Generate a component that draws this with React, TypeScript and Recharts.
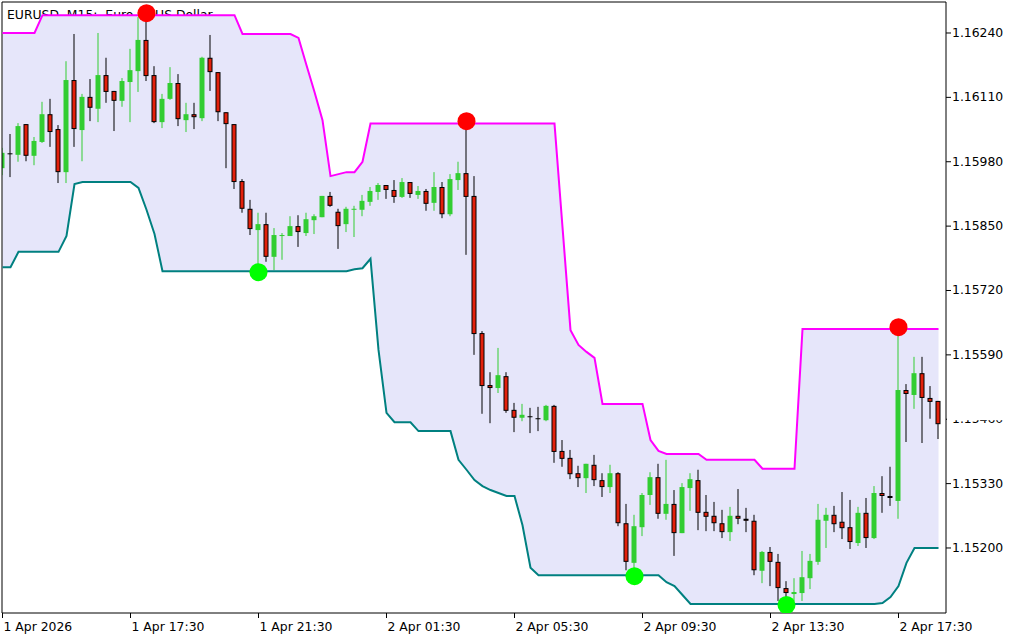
import { ComposedChart, Area, Line, Bar, Scatter, XAxis, YAxis, ReferenceLine } from 'recharts';

// EURUSD M15, 1 Apr 13:30 .. 2 Apr 18:45 (118 bars)
const opens = [
  1.15967, 1.15996, 1.15994, 1.16056, 1.15992, 1.16020, 1.16076, 1.16046, 1.15959, 1.16145,
  1.16044, 1.16111, 1.16087, 1.16155, 1.16123, 1.16103, 1.16141, 1.16163, 1.16226, 1.16155,
  1.16060, 1.16107, 1.16139, 1.16064, 1.16076, 1.16068, 1.16190, 1.16161, 1.16080, 1.16056,
  1.15941, 1.15885, 1.15842, 1.15854, 1.15788, 1.15830, 1.15830, 1.15850, 1.15836, 1.15862,
  1.15868, 1.15911, 1.15879, 1.15854, 1.15883, 1.15883, 1.15899, 1.15919, 1.15933, 1.15923,
  1.15909, 1.15939, 1.15913, 1.15921, 1.15897, 1.15929, 1.15874, 1.15943, 1.15957, 1.15911,
  1.15634, 1.15529, 1.15523, 1.15547, 1.15479, 1.15463, 1.15465, 1.15461, 1.15458, 1.15487,
  1.15396, 1.15382, 1.15351, 1.15341, 1.15368, 1.15337, 1.15323, 1.15351, 1.15250, 1.15170,
  1.15242, 1.15307, 1.15343, 1.15269, 1.15289, 1.15230, 1.15321, 1.15337, 1.15273, 1.15265,
  1.15250, 1.15232, 1.15265, 1.15259, 1.15255, 1.15154, 1.15192, 1.15172, 1.15119, 1.15107,
  1.15109, 1.15139, 1.15172, 1.15255, 1.15267, 1.15253, 1.15242, 1.15210, 1.15271, 1.15220,
  1.15311, 1.15305, 1.15295, 1.15519, 1.15509, 1.15553, 1.15503, 1.15497,
];
const highs = [
  1.16008, 1.16036, 1.16058, 1.16056, 1.16030, 1.16101, 1.16107, 1.16054, 1.16183, 1.16238,
  1.16117, 1.16147, 1.16240, 1.16190, 1.16123, 1.16149, 1.16208, 1.16272, 1.16276, 1.16173,
  1.16117, 1.16171, 1.16157, 1.16099, 1.16099, 1.16192, 1.16236, 1.16161, 1.16080, 1.16056,
  1.15945, 1.15903, 1.15877, 1.15877, 1.15846, 1.15836, 1.15870, 1.15872, 1.15877, 1.15874,
  1.15911, 1.15919, 1.15885, 1.15889, 1.15891, 1.15913, 1.15929, 1.15937, 1.15933, 1.15943,
  1.15947, 1.15939, 1.15931, 1.15925, 1.15959, 1.15939, 1.15955, 1.15980, 1.16057, 1.15951,
  1.15638, 1.15555, 1.15604, 1.15555, 1.15493, 1.15491, 1.15483, 1.15485, 1.15489, 1.15489,
  1.15418, 1.15398, 1.15366, 1.15370, 1.15388, 1.15351, 1.15368, 1.15353, 1.15289, 1.15267,
  1.15311, 1.15353, 1.15370, 1.15378, 1.15317, 1.15331, 1.15351, 1.15358, 1.15307, 1.15293,
  1.15277, 1.15283, 1.15319, 1.15281, 1.15267, 1.15194, 1.15202, 1.15188, 1.15133, 1.15139,
  1.15194, 1.15188, 1.15289, 1.15281, 1.15285, 1.15313, 1.15297, 1.15283, 1.15301, 1.15325,
  1.15345, 1.15364, 1.15642, 1.15531, 1.15586, 1.15586, 1.15527, 1.15497,
];
const lows = [
  1.15953, 1.15949, 1.15980, 1.15981, 1.15973, 1.16018, 1.16010, 1.15937, 1.15937, 1.16010,
  1.15981, 1.16062, 1.16060, 1.16099, 1.16042, 1.16091, 1.16060, 1.16121, 1.16143, 1.16058,
  1.16048, 1.16105, 1.16052, 1.16040, 1.16046, 1.16062, 1.16123, 1.16062, 1.15967, 1.15925,
  1.15877, 1.15832, 1.15759, 1.15778, 1.15761, 1.15782, 1.15830, 1.15808, 1.15830, 1.15834,
  1.15868, 1.15889, 1.15804, 1.15838, 1.15828, 1.15870, 1.15891, 1.15903, 1.15905, 1.15897,
  1.15907, 1.15907, 1.15905, 1.15881, 1.15881, 1.15866, 1.15870, 1.15923, 1.15792, 1.15590,
  1.15471, 1.15452, 1.15513, 1.15473, 1.15434, 1.15456, 1.15432, 1.15436, 1.15456, 1.15372,
  1.15364, 1.15339, 1.15323, 1.15311, 1.15325, 1.15303, 1.15311, 1.15244, 1.15155, 1.15145,
  1.15224, 1.15287, 1.15259, 1.15257, 1.15184, 1.15230, 1.15275, 1.15236, 1.15234, 1.15234,
  1.15220, 1.15214, 1.15248, 1.15232, 1.15145, 1.15129, 1.15123, 1.15093, 1.15087, 1.15093,
  1.15093, 1.15117, 1.15166, 1.15200, 1.15232, 1.15218, 1.15198, 1.15204, 1.15200, 1.15218,
  1.15271, 1.15285, 1.15259, 1.15414, 1.15481, 1.15412, 1.15461, 1.15420,
];
const closes = [
  1.15998, 1.15996, 1.16052, 1.15992, 1.16022, 1.16076, 1.16040, 1.15959, 1.16145, 1.16046,
  1.16111, 1.16089, 1.16155, 1.16121, 1.16103, 1.16143, 1.16165, 1.16226, 1.16153, 1.16060,
  1.16107, 1.16139, 1.16066, 1.16076, 1.16070, 1.16190, 1.16161, 1.16080, 1.16056, 1.15939,
  1.15885, 1.15844, 1.15854, 1.15788, 1.15832, 1.15832, 1.15850, 1.15838, 1.15864, 1.15870,
  1.15911, 1.15891, 1.15850, 1.15885, 1.15885, 1.15901, 1.15921, 1.15933, 1.15923, 1.15909,
  1.15939, 1.15915, 1.15921, 1.15895, 1.15929, 1.15874, 1.15945, 1.15957, 1.15909, 1.15632,
  1.15527, 1.15523, 1.15549, 1.15477, 1.15463, 1.15469, 1.15465, 1.15461, 1.15487, 1.15394,
  1.15380, 1.15349, 1.15341, 1.15370, 1.15337, 1.15323, 1.15351, 1.15250, 1.15172, 1.15244,
  1.15307, 1.15343, 1.15269, 1.15289, 1.15230, 1.15323, 1.15339, 1.15271, 1.15263, 1.15250,
  1.15232, 1.15265, 1.15259, 1.15255, 1.15155, 1.15192, 1.15172, 1.15119, 1.15109, 1.15111,
  1.15141, 1.15174, 1.15257, 1.15267, 1.15248, 1.15240, 1.15212, 1.15271, 1.15220, 1.15311,
  1.15305, 1.15301, 1.15519, 1.15511, 1.15553, 1.15503, 1.15495, 1.15450,
];

// channel bands
const upperBand = [
  1.16240, 1.16240, 1.16240, 1.16240, 1.16240, 1.16276, 1.16276, 1.16276, 1.16276, 1.16276,
  1.16276, 1.16276, 1.16276, 1.16276, 1.16276, 1.16276, 1.16276, 1.16276, 1.16276, 1.16276,
  1.16276, 1.16276, 1.16276, 1.16276, 1.16276, 1.16276, 1.16276, 1.16276, 1.16276, 1.16276,
  1.16238, 1.16238, 1.16238, 1.16238, 1.16238, 1.16238, 1.16238, 1.16230, 1.16175, 1.16121,
  1.16064, 1.15951, 1.15955, 1.15959, 1.15959, 1.15980, 1.16057, 1.16057, 1.16057, 1.16057,
  1.16057, 1.16057, 1.16057, 1.16057, 1.16057, 1.16057, 1.16057, 1.16057, 1.16057, 1.16057,
  1.16057, 1.16057, 1.16057, 1.16057, 1.16057, 1.16057, 1.16057, 1.16057, 1.16057, 1.16057,
  1.15848, 1.15640, 1.15610, 1.15596, 1.15584, 1.15491, 1.15491, 1.15491, 1.15491, 1.15491,
  1.15491, 1.15418, 1.15396, 1.15390, 1.15390, 1.15390, 1.15390, 1.15390, 1.15378, 1.15378,
  1.15378, 1.15378, 1.15378, 1.15378, 1.15378, 1.15360, 1.15360, 1.15360, 1.15360, 1.15360,
  1.15642, 1.15642, 1.15642, 1.15642, 1.15642, 1.15642, 1.15642, 1.15642, 1.15642, 1.15642,
  1.15642, 1.15642, 1.15642, 1.15642, 1.15642, 1.15642, 1.15642, 1.15642,
];
const lowerBand = [
  1.15767, 1.15767, 1.15798, 1.15798, 1.15798, 1.15798, 1.15798, 1.15798, 1.15830, 1.15935,
  1.15939, 1.15939, 1.15939, 1.15939, 1.15939, 1.15939, 1.15939, 1.15927, 1.15883, 1.15834,
  1.15759, 1.15759, 1.15759, 1.15759, 1.15759, 1.15759, 1.15759, 1.15759, 1.15759, 1.15759,
  1.15759, 1.15759, 1.15759, 1.15759, 1.15759, 1.15759, 1.15759, 1.15759, 1.15759, 1.15759,
  1.15759, 1.15759, 1.15759, 1.15759, 1.15763, 1.15765, 1.15784, 1.15600, 1.15473, 1.15454,
  1.15454, 1.15454, 1.15436, 1.15436, 1.15436, 1.15436, 1.15436, 1.15378, 1.15358, 1.15337,
  1.15325, 1.15317, 1.15311, 1.15305, 1.15305, 1.15246, 1.15160, 1.15145, 1.15145, 1.15145,
  1.15145, 1.15145, 1.15145, 1.15145, 1.15145, 1.15145, 1.15145, 1.15145, 1.15145, 1.15145,
  1.15145, 1.15145, 1.15145, 1.15131, 1.15123, 1.15105, 1.15087, 1.15087, 1.15087, 1.15087,
  1.15087, 1.15087, 1.15087, 1.15087, 1.15087, 1.15087, 1.15087, 1.15087, 1.15087, 1.15087,
  1.15087, 1.15087, 1.15087, 1.15087, 1.15087, 1.15087, 1.15087, 1.15087, 1.15087, 1.15087,
  1.15089, 1.15101, 1.15123, 1.15170, 1.15200, 1.15200, 1.15200, 1.15200,
];

// signal dots: [bar index, price]
const highDots = [
  { i: 18, v: 1.1628 },
  { i: 58, v: 1.16062 },
  { i: 112, v: 1.15646 },
];
const lowDots = [
  { i: 32, v: 1.15757 },
  { i: 79, v: 1.15143 },
  { i: 98, v: 1.15085 },
];

const timeTicks = [0, 16, 32, 48, 64, 80, 96, 112];
const timeLabels = [
  '1 Apr 2026',
  '1 Apr 17:30',
  '1 Apr 21:30',
  '2 Apr 01:30',
  '2 Apr 05:30',
  '2 Apr 09:30',
  '2 Apr 13:30',
  '2 Apr 17:30',
];
const priceTicks = [1.1624, 1.1611, 1.1598, 1.1585, 1.1572, 1.1559, 1.1546, 1.1533, 1.152];
const HIDDEN_PRICE = 1.1546; // label half covered in the terminal

const X_DOMAIN: [number, number] = [-0.0625, 117.9375];
const Y_DOMAIN: [number, number] = [1.150687, 1.163026];

const FONT = '"DejaVu Sans", sans-serif';
const FONT_SIZE = 12.4;
const BULL = '#32CD32';
const BEAR = '#E3200B';

const rows = opens.map((open, i) => ({
  i,
  open,
  high: highs[i],
  low: lows[i],
  close: closes[i],
  up: upperBand[i],
  lo: lowerBand[i],
}));

function Candle(props: any) {
  const { x, y, width, height, payload } = props;
  if (!payload || x == null || y == null) return null;
  const top = Math.min(y, y + height);
  const bottom = Math.max(y, y + height);
  const { open, high, low, close } = payload;
  const span = high - low;
  const py = (p: number) => (span > 0 ? top + ((high - p) / span) * (bottom - top) : top);
  const cx = x + width / 2;
  const yo = py(open);
  const yc = py(close);

  if (open === close) {
    return (
      <g>
        <line x1={cx} x2={cx} y1={top} y2={bottom} stroke="#000" strokeWidth={1} />
        <line x1={x} x2={x + width} y1={yo} y2={yo} stroke="#000" strokeWidth={1} />
      </g>
    );
  }
  const bodyTop = Math.min(yo, yc);
  const bodyH = Math.max(1, Math.abs(yc - yo));
  if (close > open) {
    return (
      <g>
        <line x1={cx} x2={cx} y1={top} y2={bottom} stroke={BULL} strokeWidth={1} />
        <rect x={x} y={bodyTop} width={width} height={bodyH} fill={BULL} />
      </g>
    );
  }
  return (
    <g>
      <line x1={cx} x2={cx} y1={top} y2={bottom} stroke="#000" strokeWidth={1} />
      <rect
        x={x + 0.5}
        y={bodyTop + 0.5}
        width={width - 1}
        height={Math.max(1, bodyH - 1)}
        fill={BEAR}
        stroke="#000"
        strokeWidth={1}
      />
    </g>
  );
}

function TimeTick(props: any) {
  const { x, y, payload } = props;
  const k = timeTicks.indexOf(payload.value);
  return (
    <text x={x + 1} y={y} dy={11} fontSize={FONT_SIZE} fontFamily={FONT} fill="#000" textAnchor="start">
      {timeLabels[k]}
    </text>
  );
}

function PriceTick(props: any) {
  const { x, y, payload } = props;
  const hidden = Math.abs(payload.value - HIDDEN_PRICE) < 1e-9;
  return (
    <g>
      <text x={x} y={y} dy={4} fontSize={FONT_SIZE} fontFamily={FONT} fill="#000" textAnchor="start">
        {payload.value.toFixed(5)}
      </text>
      {hidden && <rect x={x - 5} y={y - 10} width={80} height={11} fill="#fff" />}
    </g>
  );
}

const redDot = (p: any) => <circle cx={p.cx} cy={p.cy} r={9} fill="#FF0000" />;
const greenDot = (p: any) => <circle cx={p.cx} cy={p.cy} r={9} fill="#00FF00" />;

export default function App() {
  return (
    <div style={{ position: 'fixed', left: 0, top: 0, width: 1024, height: 640, background: '#fff' }}>
      <div
        style={{
          position: 'absolute',
          left: 7,
          top: 7,
          fontFamily: FONT,
          fontSize: FONT_SIZE,
          color: '#000',
          whiteSpace: 'pre',
          lineHeight: 'normal',
        }}
      >
        {'EURUSD, M15:  Euro vs US Dollar'}
      </div>
      <div style={{ position: 'absolute', left: 0, top: 0 }}>
        <ComposedChart width={1024} height={640} data={rows} margin={{ top: 2, right: 0, bottom: 0, left: 2 }}>
          <XAxis
            dataKey="i"
            type="number"
            domain={X_DOMAIN}
            allowDataOverflow
            ticks={timeTicks}
            interval={0}
            height={27}
            tickSize={5}
            tickMargin={2}
            axisLine={{ stroke: '#000' }}
            tickLine={{ stroke: '#000' }}
            tick={<TimeTick />}
          />
          <YAxis
            orientation="right"
            type="number"
            domain={Y_DOMAIN}
            allowDataOverflow
            ticks={priceTicks}
            interval={0}
            width={78}
            tickSize={5}
            tickMargin={1}
            axisLine={{ stroke: '#000' }}
            tickLine={{ stroke: '#000' }}
            tick={<PriceTick />}
          />
          <Area
            type="linear"
            dataKey={(d: any) => [d.lo, d.up]}
            fill="#E6E6FA"
            fillOpacity={1}
            stroke="none"
            isAnimationActive={false}
          />
          <ReferenceLine y={Y_DOMAIN[1]} stroke="#000" strokeWidth={1} />
          <ReferenceLine x={X_DOMAIN[0]} stroke="#000" strokeWidth={1} />
          <Line type="linear" dataKey="up" stroke="#FF00FF" strokeWidth={2} dot={false} isAnimationActive={false} />
          <Line type="linear" dataKey="lo" stroke="#008080" strokeWidth={2} dot={false} isAnimationActive={false} />
          <Bar
            dataKey={(d: any) => [d.low, d.high]}
            barSize={5}
            shape={(p: any) => <Candle {...p} />}
            isAnimationActive={false}
          />
          <Scatter data={highDots} dataKey="v" shape={redDot} isAnimationActive={false} />
          <Scatter data={lowDots} dataKey="v" shape={greenDot} isAnimationActive={false} />
        </ComposedChart>
      </div>
    </div>
  );
}
